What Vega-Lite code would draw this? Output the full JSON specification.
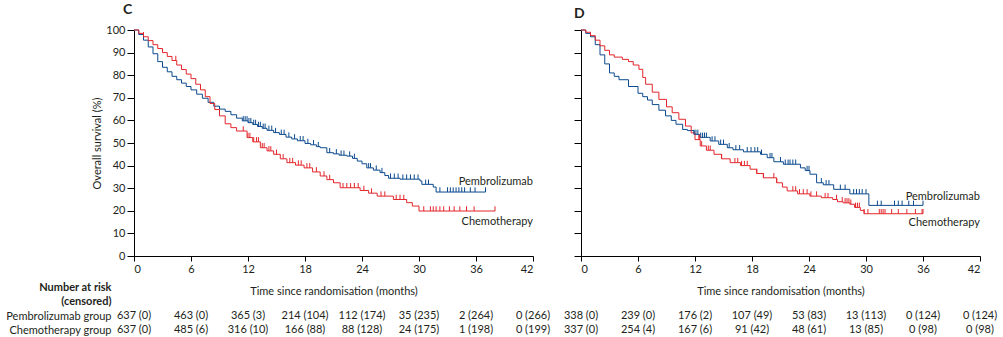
{
"$schema":"https://vega.github.io/schema/vega-lite/v6.json",
"padding":{"left":5,"top":3,"right":0,"bottom":0},
"bounds":"flush",
"columns":2,
"spacing":{"row":53,"column":48},
"config":{
 "font":"Lato",
 "view":{"stroke":null},
 "axis":{"domainColor":"#000000","tickColor":"#000000","labelColor":"#231f20","titleColor":"#231f20","labelFontSize":11,"titleFontSize":11,"titleFontWeight":"normal","grid":false,"labelFont":"Lato","titleFont":"Lato","labelOverlap":false},
 "text":{"font":"Lato"},
 "title":{"font":"Lato"}
},
"datasets":{
"km":[
{"p":"C","g":"Pembrolizumab","t":0,"s":100},{"p":"C","g":"Pembrolizumab","t":0.5,"s":98},{"p":"C","g":"Pembrolizumab","t":1,"s":95.5},{"p":"C","g":"Pembrolizumab","t":1.5,"s":92.5},{"p":"C","g":"Pembrolizumab","t":2,"s":89.5},{"p":"C","g":"Pembrolizumab","t":2.5,"s":86},{"p":"C","g":"Pembrolizumab","t":3,"s":83.5},{"p":"C","g":"Pembrolizumab","t":3.5,"s":81.5},{"p":"C","g":"Pembrolizumab","t":4,"s":79.5},{"p":"C","g":"Pembrolizumab","t":4.5,"s":78},{"p":"C","g":"Pembrolizumab","t":5,"s":76.5},{"p":"C","g":"Pembrolizumab","t":5.5,"s":75},{"p":"C","g":"Pembrolizumab","t":6,"s":73.5},{"p":"C","g":"Pembrolizumab","t":6.6,"s":71.6},{"p":"C","g":"Pembrolizumab","t":7.2,"s":69.8},{"p":"C","g":"Pembrolizumab","t":7.8,"s":68},{"p":"C","g":"Pembrolizumab","t":8.4,"s":66.3},{"p":"C","g":"Pembrolizumab","t":9,"s":65},{"p":"C","g":"Pembrolizumab","t":9.6,"s":64},{"p":"C","g":"Pembrolizumab","t":10.2,"s":62.5},{"p":"C","g":"Pembrolizumab","t":10.8,"s":61},{"p":"C","g":"Pembrolizumab","t":11.4,"s":59.8},{"p":"C","g":"Pembrolizumab","t":12,"s":59},{"p":"C","g":"Pembrolizumab","t":12.5,"s":58.2},{"p":"C","g":"Pembrolizumab","t":13,"s":57.3},{"p":"C","g":"Pembrolizumab","t":13.5,"s":56.5},{"p":"C","g":"Pembrolizumab","t":14,"s":55.6},{"p":"C","g":"Pembrolizumab","t":14.7,"s":54.6},{"p":"C","g":"Pembrolizumab","t":15.3,"s":53.8},{"p":"C","g":"Pembrolizumab","t":16,"s":52.6},{"p":"C","g":"Pembrolizumab","t":16.6,"s":51.8},{"p":"C","g":"Pembrolizumab","t":17.2,"s":51},{"p":"C","g":"Pembrolizumab","t":18,"s":49.8},{"p":"C","g":"Pembrolizumab","t":18.6,"s":49.2},{"p":"C","g":"Pembrolizumab","t":19.2,"s":48.4},{"p":"C","g":"Pembrolizumab","t":19.6,"s":47.9},{"p":"C","g":"Pembrolizumab","t":20.3,"s":45.7},{"p":"C","g":"Pembrolizumab","t":21,"s":45.2},{"p":"C","g":"Pembrolizumab","t":21.6,"s":44.6},{"p":"C","g":"Pembrolizumab","t":22.4,"s":44.2},{"p":"C","g":"Pembrolizumab","t":23,"s":43.2},{"p":"C","g":"Pembrolizumab","t":23.5,"s":42},{"p":"C","g":"Pembrolizumab","t":24,"s":40.8},{"p":"C","g":"Pembrolizumab","t":24.5,"s":39},{"p":"C","g":"Pembrolizumab","t":25.2,"s":38},{"p":"C","g":"Pembrolizumab","t":25.9,"s":36.9},{"p":"C","g":"Pembrolizumab","t":26.4,"s":35.6},{"p":"C","g":"Pembrolizumab","t":26.8,"s":34.4},{"p":"C","g":"Pembrolizumab","t":28,"s":34},{"p":"C","g":"Pembrolizumab","t":30.1,"s":33.2},{"p":"C","g":"Pembrolizumab","t":30.3,"s":31.7},{"p":"C","g":"Pembrolizumab","t":31.5,"s":30.5},{"p":"C","g":"Pembrolizumab","t":31.8,"s":28.3},{"p":"C","g":"Pembrolizumab","t":37,"s":28.3},
{"p":"C","g":"Chemotherapy","t":0,"s":100},{"p":"C","g":"Chemotherapy","t":0.5,"s":98.5},{"p":"C","g":"Chemotherapy","t":1,"s":97},{"p":"C","g":"Chemotherapy","t":1.5,"s":95.3},{"p":"C","g":"Chemotherapy","t":2,"s":93.5},{"p":"C","g":"Chemotherapy","t":2.5,"s":91.8},{"p":"C","g":"Chemotherapy","t":3,"s":90},{"p":"C","g":"Chemotherapy","t":3.5,"s":88.3},{"p":"C","g":"Chemotherapy","t":4,"s":86.5},{"p":"C","g":"Chemotherapy","t":4.5,"s":84.5},{"p":"C","g":"Chemotherapy","t":5,"s":82.5},{"p":"C","g":"Chemotherapy","t":5.5,"s":80.5},{"p":"C","g":"Chemotherapy","t":6,"s":78.5},{"p":"C","g":"Chemotherapy","t":6.5,"s":76},{"p":"C","g":"Chemotherapy","t":7,"s":73.5},{"p":"C","g":"Chemotherapy","t":7.5,"s":70.5},{"p":"C","g":"Chemotherapy","t":8,"s":67.5},{"p":"C","g":"Chemotherapy","t":8.5,"s":64.8},{"p":"C","g":"Chemotherapy","t":9,"s":62},{"p":"C","g":"Chemotherapy","t":9.6,"s":58.5},{"p":"C","g":"Chemotherapy","t":10.2,"s":56.8},{"p":"C","g":"Chemotherapy","t":10.8,"s":55.3},{"p":"C","g":"Chemotherapy","t":11.9,"s":52.4},{"p":"C","g":"Chemotherapy","t":12.5,"s":50.5},{"p":"C","g":"Chemotherapy","t":13.3,"s":47.9},{"p":"C","g":"Chemotherapy","t":14,"s":46.5},{"p":"C","g":"Chemotherapy","t":14.7,"s":45},{"p":"C","g":"Chemotherapy","t":15.4,"s":43},{"p":"C","g":"Chemotherapy","t":16.1,"s":41.3},{"p":"C","g":"Chemotherapy","t":17,"s":40.2},{"p":"C","g":"Chemotherapy","t":17.9,"s":39},{"p":"C","g":"Chemotherapy","t":18.8,"s":37.2},{"p":"C","g":"Chemotherapy","t":19.6,"s":35.4},{"p":"C","g":"Chemotherapy","t":20.3,"s":33.8},{"p":"C","g":"Chemotherapy","t":21,"s":32.4},{"p":"C","g":"Chemotherapy","t":21.7,"s":30.2},{"p":"C","g":"Chemotherapy","t":23.8,"s":29},{"p":"C","g":"Chemotherapy","t":24.7,"s":27.8},{"p":"C","g":"Chemotherapy","t":25.6,"s":26.5},{"p":"C","g":"Chemotherapy","t":27.3,"s":25},{"p":"C","g":"Chemotherapy","t":28.7,"s":23.6},{"p":"C","g":"Chemotherapy","t":29.3,"s":22.1},{"p":"C","g":"Chemotherapy","t":30,"s":19.9},{"p":"C","g":"Chemotherapy","t":38,"s":19.9},
{"p":"D","g":"Pembrolizumab","t":0,"s":100},{"p":"D","g":"Pembrolizumab","t":0.5,"s":98.5},{"p":"D","g":"Pembrolizumab","t":1,"s":97},{"p":"D","g":"Pembrolizumab","t":1.5,"s":93.5},{"p":"D","g":"Pembrolizumab","t":2,"s":89},{"p":"D","g":"Pembrolizumab","t":2.5,"s":85},{"p":"D","g":"Pembrolizumab","t":3,"s":81},{"p":"D","g":"Pembrolizumab","t":3.5,"s":79.5},{"p":"D","g":"Pembrolizumab","t":4,"s":78},{"p":"D","g":"Pembrolizumab","t":5,"s":75},{"p":"D","g":"Pembrolizumab","t":6,"s":72},{"p":"D","g":"Pembrolizumab","t":6.5,"s":70.5},{"p":"D","g":"Pembrolizumab","t":7,"s":69},{"p":"D","g":"Pembrolizumab","t":7.5,"s":67},{"p":"D","g":"Pembrolizumab","t":8.2,"s":64.5},{"p":"D","g":"Pembrolizumab","t":8.9,"s":62},{"p":"D","g":"Pembrolizumab","t":9.5,"s":60},{"p":"D","g":"Pembrolizumab","t":10,"s":58.3},{"p":"D","g":"Pembrolizumab","t":10.7,"s":56},{"p":"D","g":"Pembrolizumab","t":11.2,"s":55.5},{"p":"D","g":"Pembrolizumab","t":11.9,"s":53.8},{"p":"D","g":"Pembrolizumab","t":12.5,"s":52.5},{"p":"D","g":"Pembrolizumab","t":13.6,"s":50.9},{"p":"D","g":"Pembrolizumab","t":14.5,"s":49.4},{"p":"D","g":"Pembrolizumab","t":15.4,"s":47.9},{"p":"D","g":"Pembrolizumab","t":16,"s":47},{"p":"D","g":"Pembrolizumab","t":17.1,"s":46.1},{"p":"D","g":"Pembrolizumab","t":18.9,"s":45},{"p":"D","g":"Pembrolizumab","t":19.6,"s":43.5},{"p":"D","g":"Pembrolizumab","t":20.3,"s":41.7},{"p":"D","g":"Pembrolizumab","t":21.3,"s":40.6},{"p":"D","g":"Pembrolizumab","t":23.1,"s":39},{"p":"D","g":"Pembrolizumab","t":23.6,"s":37.8},{"p":"D","g":"Pembrolizumab","t":24.1,"s":36.2},{"p":"D","g":"Pembrolizumab","t":24.8,"s":32.4},{"p":"D","g":"Pembrolizumab","t":25.5,"s":31.5},{"p":"D","g":"Pembrolizumab","t":26.6,"s":29.5},{"p":"D","g":"Pembrolizumab","t":28.3,"s":27.5},{"p":"D","g":"Pembrolizumab","t":30.3,"s":22.4},{"p":"D","g":"Pembrolizumab","t":36,"s":22.4},
{"p":"D","g":"Chemotherapy","t":0,"s":100},{"p":"D","g":"Chemotherapy","t":0.5,"s":99},{"p":"D","g":"Chemotherapy","t":1,"s":97.5},{"p":"D","g":"Chemotherapy","t":1.5,"s":95.5},{"p":"D","g":"Chemotherapy","t":2,"s":93},{"p":"D","g":"Chemotherapy","t":2.5,"s":91},{"p":"D","g":"Chemotherapy","t":3,"s":89},{"p":"D","g":"Chemotherapy","t":3.5,"s":88},{"p":"D","g":"Chemotherapy","t":4.35,"s":87},{"p":"D","g":"Chemotherapy","t":5,"s":86},{"p":"D","g":"Chemotherapy","t":5.5,"s":84.5},{"p":"D","g":"Chemotherapy","t":6.1,"s":82.6},{"p":"D","g":"Chemotherapy","t":6.5,"s":79},{"p":"D","g":"Chemotherapy","t":6.8,"s":76},{"p":"D","g":"Chemotherapy","t":7.5,"s":72.5},{"p":"D","g":"Chemotherapy","t":8.2,"s":69.3},{"p":"D","g":"Chemotherapy","t":9,"s":66},{"p":"D","g":"Chemotherapy","t":9.6,"s":63.4},{"p":"D","g":"Chemotherapy","t":10.3,"s":60.5},{"p":"D","g":"Chemotherapy","t":11,"s":57.5},{"p":"D","g":"Chemotherapy","t":11.6,"s":54.5},{"p":"D","g":"Chemotherapy","t":12,"s":51.5},{"p":"D","g":"Chemotherapy","t":12.55,"s":48.7},{"p":"D","g":"Chemotherapy","t":13.2,"s":46.8},{"p":"D","g":"Chemotherapy","t":14,"s":45},{"p":"D","g":"Chemotherapy","t":14.8,"s":43},{"p":"D","g":"Chemotherapy","t":15.7,"s":41.3},{"p":"D","g":"Chemotherapy","t":16.8,"s":40},{"p":"D","g":"Chemotherapy","t":17.8,"s":38.4},{"p":"D","g":"Chemotherapy","t":18.5,"s":36.5},{"p":"D","g":"Chemotherapy","t":19.2,"s":34.6},{"p":"D","g":"Chemotherapy","t":20.6,"s":32.4},{"p":"D","g":"Chemotherapy","t":21.2,"s":30.5},{"p":"D","g":"Chemotherapy","t":21.7,"s":28.8},{"p":"D","g":"Chemotherapy","t":22.8,"s":27.5},{"p":"D","g":"Chemotherapy","t":24.1,"s":26.5},{"p":"D","g":"Chemotherapy","t":25.3,"s":25.8},{"p":"D","g":"Chemotherapy","t":26.5,"s":25},{"p":"D","g":"Chemotherapy","t":27,"s":24},{"p":"D","g":"Chemotherapy","t":27.6,"s":23.5},{"p":"D","g":"Chemotherapy","t":28.3,"s":22.9},{"p":"D","g":"Chemotherapy","t":28.8,"s":21.5},{"p":"D","g":"Chemotherapy","t":29.4,"s":20.2},{"p":"D","g":"Chemotherapy","t":29.8,"s":18.7},{"p":"D","g":"Chemotherapy","t":36,"s":18.7}
],
"cens":[
{"p":"C","g":"Pembrolizumab","t":11.5,"s":59.8},{"p":"C","g":"Pembrolizumab","t":11.7,"s":59.8},{"p":"C","g":"Pembrolizumab","t":11.9,"s":59.8},{"p":"C","g":"Pembrolizumab","t":12.1,"s":59},{"p":"C","g":"Pembrolizumab","t":12.3,"s":59},{"p":"C","g":"Pembrolizumab","t":12.6,"s":58.2},{"p":"C","g":"Pembrolizumab","t":12.8,"s":58.2},{"p":"C","g":"Pembrolizumab","t":13.1,"s":57.3},{"p":"C","g":"Pembrolizumab","t":13.3,"s":57.3},{"p":"C","g":"Pembrolizumab","t":13.6,"s":56.5},{"p":"C","g":"Pembrolizumab","t":13.8,"s":56.5},{"p":"C","g":"Pembrolizumab","t":14.2,"s":55.6},{"p":"C","g":"Pembrolizumab","t":14.5,"s":55.6},{"p":"C","g":"Pembrolizumab","t":14.9,"s":54.6},{"p":"C","g":"Pembrolizumab","t":15.5,"s":53.8},{"p":"C","g":"Pembrolizumab","t":15.8,"s":53.8},{"p":"C","g":"Pembrolizumab","t":16.3,"s":52.6},{"p":"C","g":"Pembrolizumab","t":16.9,"s":51.8},{"p":"C","g":"Pembrolizumab","t":17.5,"s":51},{"p":"C","g":"Pembrolizumab","t":17.8,"s":51},{"p":"C","g":"Pembrolizumab","t":18.3,"s":49.8},{"p":"C","g":"Pembrolizumab","t":18.9,"s":49.2},{"p":"C","g":"Pembrolizumab","t":19.4,"s":48.4},{"p":"C","g":"Pembrolizumab","t":20.6,"s":45.7},{"p":"C","g":"Pembrolizumab","t":21.3,"s":45.2},{"p":"C","g":"Pembrolizumab","t":21.8,"s":44.6},{"p":"C","g":"Pembrolizumab","t":22.1,"s":44.6},{"p":"C","g":"Pembrolizumab","t":22.7,"s":44.2},{"p":"C","g":"Pembrolizumab","t":23.2,"s":43.2},{"p":"C","g":"Pembrolizumab","t":24.7,"s":39},{"p":"C","g":"Pembrolizumab","t":24.9,"s":39},{"p":"C","g":"Pembrolizumab","t":25.5,"s":38},{"p":"C","g":"Pembrolizumab","t":26.1,"s":36.9},{"p":"C","g":"Pembrolizumab","t":27,"s":34.4},{"p":"C","g":"Pembrolizumab","t":27.4,"s":34.4},{"p":"C","g":"Pembrolizumab","t":27.8,"s":34.4},{"p":"C","g":"Pembrolizumab","t":28.3,"s":34},{"p":"C","g":"Pembrolizumab","t":28.7,"s":34},{"p":"C","g":"Pembrolizumab","t":29.1,"s":34},{"p":"C","g":"Pembrolizumab","t":29.5,"s":34},{"p":"C","g":"Pembrolizumab","t":29.9,"s":34},{"p":"C","g":"Pembrolizumab","t":30.7,"s":31.7},{"p":"C","g":"Pembrolizumab","t":31,"s":31.7},{"p":"C","g":"Pembrolizumab","t":32.2,"s":28.3},{"p":"C","g":"Pembrolizumab","t":33,"s":28.3},{"p":"C","g":"Pembrolizumab","t":33.3,"s":28.3},{"p":"C","g":"Pembrolizumab","t":33.6,"s":28.3},{"p":"C","g":"Pembrolizumab","t":33.9,"s":28.3},{"p":"C","g":"Pembrolizumab","t":34.2,"s":28.3},{"p":"C","g":"Pembrolizumab","t":34.5,"s":28.3},{"p":"C","g":"Pembrolizumab","t":34.8,"s":28.3},{"p":"C","g":"Pembrolizumab","t":35.4,"s":28.3},{"p":"C","g":"Pembrolizumab","t":35.9,"s":28.3},{"p":"C","g":"Pembrolizumab","t":37,"s":28.3},
{"p":"C","g":"Chemotherapy","t":1,"s":97},{"p":"C","g":"Chemotherapy","t":4.4,"s":86.5},{"p":"C","g":"Chemotherapy","t":11.5,"s":55.3},{"p":"C","g":"Chemotherapy","t":12,"s":52.4},{"p":"C","g":"Chemotherapy","t":12.2,"s":52.4},{"p":"C","g":"Chemotherapy","t":12.6,"s":50.5},{"p":"C","g":"Chemotherapy","t":12.9,"s":50.5},{"p":"C","g":"Chemotherapy","t":13.1,"s":50.5},{"p":"C","g":"Chemotherapy","t":13.5,"s":47.9},{"p":"C","g":"Chemotherapy","t":13.7,"s":47.9},{"p":"C","g":"Chemotherapy","t":14.2,"s":46.5},{"p":"C","g":"Chemotherapy","t":14.4,"s":46.5},{"p":"C","g":"Chemotherapy","t":15,"s":45},{"p":"C","g":"Chemotherapy","t":15.7,"s":43},{"p":"C","g":"Chemotherapy","t":16.4,"s":41.3},{"p":"C","g":"Chemotherapy","t":16.7,"s":41.3},{"p":"C","g":"Chemotherapy","t":17.3,"s":40.2},{"p":"C","g":"Chemotherapy","t":17.6,"s":40.2},{"p":"C","g":"Chemotherapy","t":18.2,"s":39},{"p":"C","g":"Chemotherapy","t":18.5,"s":39},{"p":"C","g":"Chemotherapy","t":19.2,"s":37.2},{"p":"C","g":"Chemotherapy","t":20,"s":35.4},{"p":"C","g":"Chemotherapy","t":20.6,"s":33.8},{"p":"C","g":"Chemotherapy","t":22,"s":30.2},{"p":"C","g":"Chemotherapy","t":22.4,"s":30.2},{"p":"C","g":"Chemotherapy","t":22.8,"s":30.2},{"p":"C","g":"Chemotherapy","t":23.2,"s":30.2},{"p":"C","g":"Chemotherapy","t":23.6,"s":30.2},{"p":"C","g":"Chemotherapy","t":24.2,"s":29},{"p":"C","g":"Chemotherapy","t":25,"s":27.8},{"p":"C","g":"Chemotherapy","t":26,"s":26.5},{"p":"C","g":"Chemotherapy","t":26.4,"s":26.5},{"p":"C","g":"Chemotherapy","t":27.6,"s":25},{"p":"C","g":"Chemotherapy","t":28,"s":25},{"p":"C","g":"Chemotherapy","t":28.4,"s":25},{"p":"C","g":"Chemotherapy","t":30.5,"s":19.9},{"p":"C","g":"Chemotherapy","t":31.2,"s":19.9},{"p":"C","g":"Chemotherapy","t":31.5,"s":19.9},{"p":"C","g":"Chemotherapy","t":31.8,"s":19.9},{"p":"C","g":"Chemotherapy","t":32.2,"s":19.9},{"p":"C","g":"Chemotherapy","t":32.6,"s":19.9},{"p":"C","g":"Chemotherapy","t":33.2,"s":19.9},{"p":"C","g":"Chemotherapy","t":33.7,"s":19.9},{"p":"C","g":"Chemotherapy","t":34.3,"s":19.9},{"p":"C","g":"Chemotherapy","t":35,"s":19.9},{"p":"C","g":"Chemotherapy","t":35.8,"s":19.9},{"p":"C","g":"Chemotherapy","t":38,"s":19.9},
{"p":"D","g":"Pembrolizumab","t":11.9,"s":53.8},{"p":"D","g":"Pembrolizumab","t":12.1,"s":53.8},{"p":"D","g":"Pembrolizumab","t":12.3,"s":53.8},{"p":"D","g":"Pembrolizumab","t":12.6,"s":52.5},{"p":"D","g":"Pembrolizumab","t":12.8,"s":52.5},{"p":"D","g":"Pembrolizumab","t":13,"s":52.5},{"p":"D","g":"Pembrolizumab","t":13.2,"s":52.5},{"p":"D","g":"Pembrolizumab","t":13.8,"s":50.9},{"p":"D","g":"Pembrolizumab","t":14.1,"s":50.9},{"p":"D","g":"Pembrolizumab","t":14.7,"s":49.4},{"p":"D","g":"Pembrolizumab","t":15,"s":49.4},{"p":"D","g":"Pembrolizumab","t":15.6,"s":47.9},{"p":"D","g":"Pembrolizumab","t":16.3,"s":47},{"p":"D","g":"Pembrolizumab","t":16.7,"s":47},{"p":"D","g":"Pembrolizumab","t":17.5,"s":46.1},{"p":"D","g":"Pembrolizumab","t":17.9,"s":46.1},{"p":"D","g":"Pembrolizumab","t":18.3,"s":46.1},{"p":"D","g":"Pembrolizumab","t":18.6,"s":46.1},{"p":"D","g":"Pembrolizumab","t":19,"s":45},{"p":"D","g":"Pembrolizumab","t":19.9,"s":43.5},{"p":"D","g":"Pembrolizumab","t":20.1,"s":43.5},{"p":"D","g":"Pembrolizumab","t":21,"s":41.7},{"p":"D","g":"Pembrolizumab","t":21.5,"s":40.6},{"p":"D","g":"Pembrolizumab","t":21.8,"s":40.6},{"p":"D","g":"Pembrolizumab","t":22,"s":40.6},{"p":"D","g":"Pembrolizumab","t":22.3,"s":40.6},{"p":"D","g":"Pembrolizumab","t":22.6,"s":40.6},{"p":"D","g":"Pembrolizumab","t":23.8,"s":37.8},{"p":"D","g":"Pembrolizumab","t":24,"s":37.8},{"p":"D","g":"Pembrolizumab","t":25.3,"s":32.4},{"p":"D","g":"Pembrolizumab","t":25.8,"s":31.5},{"p":"D","g":"Pembrolizumab","t":26.1,"s":31.5},{"p":"D","g":"Pembrolizumab","t":27.3,"s":29.5},{"p":"D","g":"Pembrolizumab","t":27.8,"s":29.5},{"p":"D","g":"Pembrolizumab","t":28.7,"s":27.5},{"p":"D","g":"Pembrolizumab","t":29,"s":27.5},{"p":"D","g":"Pembrolizumab","t":29.3,"s":27.5},{"p":"D","g":"Pembrolizumab","t":29.6,"s":27.5},{"p":"D","g":"Pembrolizumab","t":30,"s":27.5},{"p":"D","g":"Pembrolizumab","t":31.2,"s":22.4},{"p":"D","g":"Pembrolizumab","t":31.6,"s":22.4},{"p":"D","g":"Pembrolizumab","t":33,"s":22.4},{"p":"D","g":"Pembrolizumab","t":33.4,"s":22.4},{"p":"D","g":"Pembrolizumab","t":33.8,"s":22.4},{"p":"D","g":"Pembrolizumab","t":34.5,"s":22.4},{"p":"D","g":"Pembrolizumab","t":35,"s":22.4},{"p":"D","g":"Pembrolizumab","t":36,"s":22.4},
{"p":"D","g":"Chemotherapy","t":12.4,"s":51.5},{"p":"D","g":"Chemotherapy","t":12.5,"s":51.5},{"p":"D","g":"Chemotherapy","t":12.7,"s":48.7},{"p":"D","g":"Chemotherapy","t":13.4,"s":46.8},{"p":"D","g":"Chemotherapy","t":13.6,"s":46.8},{"p":"D","g":"Chemotherapy","t":14.8,"s":43},{"p":"D","g":"Chemotherapy","t":16.2,"s":41.3},{"p":"D","g":"Chemotherapy","t":16.5,"s":41.3},{"p":"D","g":"Chemotherapy","t":16.9,"s":40},{"p":"D","g":"Chemotherapy","t":17.2,"s":40},{"p":"D","g":"Chemotherapy","t":17.5,"s":40},{"p":"D","g":"Chemotherapy","t":18.5,"s":36.5},{"p":"D","g":"Chemotherapy","t":19.2,"s":34.6},{"p":"D","g":"Chemotherapy","t":20.3,"s":34.6},{"p":"D","g":"Chemotherapy","t":20.6,"s":32.4},{"p":"D","g":"Chemotherapy","t":22.3,"s":28.8},{"p":"D","g":"Chemotherapy","t":22.6,"s":28.8},{"p":"D","g":"Chemotherapy","t":23,"s":27.5},{"p":"D","g":"Chemotherapy","t":23.4,"s":27.5},{"p":"D","g":"Chemotherapy","t":23.8,"s":27.5},{"p":"D","g":"Chemotherapy","t":24.2,"s":26.5},{"p":"D","g":"Chemotherapy","t":24.8,"s":26.5},{"p":"D","g":"Chemotherapy","t":25.7,"s":25.8},{"p":"D","g":"Chemotherapy","t":26,"s":25.8},{"p":"D","g":"Chemotherapy","t":26.9,"s":25},{"p":"D","g":"Chemotherapy","t":27.5,"s":24},{"p":"D","g":"Chemotherapy","t":27.8,"s":23.5},{"p":"D","g":"Chemotherapy","t":28,"s":23.5},{"p":"D","g":"Chemotherapy","t":28.2,"s":23.5},{"p":"D","g":"Chemotherapy","t":28.4,"s":22.9},{"p":"D","g":"Chemotherapy","t":28.9,"s":21.5},{"p":"D","g":"Chemotherapy","t":29.1,"s":21.5},{"p":"D","g":"Chemotherapy","t":29.3,"s":21.5},{"p":"D","g":"Chemotherapy","t":29.8,"s":18.7},{"p":"D","g":"Chemotherapy","t":30.2,"s":18.7},{"p":"D","g":"Chemotherapy","t":31.4,"s":18.7},{"p":"D","g":"Chemotherapy","t":31.6,"s":18.7},{"p":"D","g":"Chemotherapy","t":31.8,"s":18.7},{"p":"D","g":"Chemotherapy","t":32,"s":18.7},{"p":"D","g":"Chemotherapy","t":32.7,"s":18.7},{"p":"D","g":"Chemotherapy","t":33.4,"s":18.7},{"p":"D","g":"Chemotherapy","t":34.3,"s":18.7},{"p":"D","g":"Chemotherapy","t":35.2,"s":18.7},{"p":"D","g":"Chemotherapy","t":35.9,"s":18.7},{"p":"D","g":"Chemotherapy","t":36,"s":18.7}
],
"risk":[
{"p":"C","g":"Pembrolizumab group","t":0,"n":"637 (0)"},{"p":"C","g":"Pembrolizumab group","t":6,"n":"463 (0)"},{"p":"C","g":"Pembrolizumab group","t":12,"n":"365 (3)"},{"p":"C","g":"Pembrolizumab group","t":18,"n":"214 (104)"},{"p":"C","g":"Pembrolizumab group","t":24,"n":"112 (174)"},{"p":"C","g":"Pembrolizumab group","t":30,"n":"35 (235)"},{"p":"C","g":"Pembrolizumab group","t":36,"n":"2 (264)"},{"p":"C","g":"Pembrolizumab group","t":42,"n":"0 (266)"},
{"p":"C","g":"Chemotherapy group","t":0,"n":"637 (0)"},{"p":"C","g":"Chemotherapy group","t":6,"n":"485 (6)"},{"p":"C","g":"Chemotherapy group","t":12,"n":"316 (10)"},{"p":"C","g":"Chemotherapy group","t":18,"n":"166 (88)"},{"p":"C","g":"Chemotherapy group","t":24,"n":"88 (128)"},{"p":"C","g":"Chemotherapy group","t":30,"n":"24 (175)"},{"p":"C","g":"Chemotherapy group","t":36,"n":"1 (198)"},{"p":"C","g":"Chemotherapy group","t":42,"n":"0 (199)"},
{"p":"D","g":"Pembrolizumab group","t":0,"n":"338 (0)"},{"p":"D","g":"Pembrolizumab group","t":6,"n":"239 (0)"},{"p":"D","g":"Pembrolizumab group","t":12,"n":"176 (2)"},{"p":"D","g":"Pembrolizumab group","t":18,"n":"107 (49)"},{"p":"D","g":"Pembrolizumab group","t":24,"n":"53 (83)"},{"p":"D","g":"Pembrolizumab group","t":30,"n":"13 (113)"},{"p":"D","g":"Pembrolizumab group","t":36,"n":"0 (124)"},{"p":"D","g":"Pembrolizumab group","t":42,"n":"0 (124)"},
{"p":"D","g":"Chemotherapy group","t":0,"n":"337 (0)"},{"p":"D","g":"Chemotherapy group","t":6,"n":"254 (4)"},{"p":"D","g":"Chemotherapy group","t":12,"n":"167 (6)"},{"p":"D","g":"Chemotherapy group","t":18,"n":"91 (42)"},{"p":"D","g":"Chemotherapy group","t":24,"n":"48 (61)"},{"p":"D","g":"Chemotherapy group","t":30,"n":"13 (85)"},{"p":"D","g":"Chemotherapy group","t":36,"n":"0 (98)"},{"p":"D","g":"Chemotherapy group","t":42,"n":"0 (98)"}
],
"lab":[
{"p":"C","g":"Pembrolizumab","t":42,"s":32.7},{"p":"C","g":"Chemotherapy","t":42,"s":15.2},
{"p":"D","g":"Pembrolizumab","t":42,"s":26.1},{"p":"D","g":"Chemotherapy","t":42,"s":14.7}
],
"hr":[
{"p":"C","text":"HR 0·81 (95% CI 0·71–0·93), p=0·0018"},
{"p":"D","text":"HR 0·92 (95% CI 0·77–1·11)"}
]
},
"concat":[
 {"width":399,"height":226,
  "title":{"text":"C","anchor":"start","frame":"group","dx":-11,"offset":-7,"fontSize":14,"fontWeight":"bold","color":"#231f20","baseline":"bottom"},
  "encoding":{
   "x":{"field":"t","type":"quantitative","scale":{"domain":[0,42],"nice":false},"axis":{"values":[0,6,12,18,24,30,36,42],"title":"Time since randomisation (months)","tickSize":5,"labelPadding":2,"titlePadding":11,"labelOverlap":false}},
   "y":{"field":"s","type":"quantitative","scale":{"domain":[0,100],"nice":false},"axis":{"values":[0,10,20,30,40,50,60,70,80,90,100],"tickCount":11,"title":"Overall survival (%)","tickSize":7,"labelPadding":2,"titlePadding":3,"labelOverlap":false}}
  },
  "layer":[
   {"data":{"name":"km"},"transform":[{"filter":"datum.p==='C'"}],
    "mark":{"type":"line","interpolate":"step-after","strokeWidth":1},
    "encoding":{"color":{"field":"g","type":"nominal","scale":{"domain":["Pembrolizumab","Chemotherapy"],"range":["#0b4a8e","#e3262b"]},"legend":null}}},
   {"data":{"name":"cens"},"transform":[{"filter":"datum.p==='C'"}],
    "mark":{"type":"point","shape":"M0,0L0,-1","size":90,"filled":false,"strokeWidth":1,"opacity":1},
    "encoding":{"color":{"field":"g","type":"nominal","legend":null}}},
   {"data":{"name":"lab"},"transform":[{"filter":"datum.p==='C'"}],
    "mark":{"type":"text","align":"right","baseline":"middle","fontSize":11,"color":"#231f20"},
    "encoding":{"text":{"field":"g"}}},
   {"data":{"name":"hr"},"transform":[{"filter":"datum.p==='C'"}],
    "mark":{"type":"text","align":"right","baseline":"middle","fontSize":11,"color":"#231f20","dx":3},
    "encoding":{"x":{"datum":42},"y":{"datum":100},"text":{"field":"text"}}}
  ]},
 {"width":399,"height":226,
  "title":{"text":"D","anchor":"start","frame":"group","dx":-7,"offset":-7,"fontSize":14,"fontWeight":"bold","color":"#231f20","baseline":"bottom"},
  "encoding":{
   "x":{"field":"t","type":"quantitative","scale":{"domain":[0,42],"nice":false},"axis":{"values":[0,6,12,18,24,30,36,42],"title":"Time since randomisation (months)","tickSize":5,"labelPadding":2,"titlePadding":11,"labelOverlap":false}},
   "y":{"field":"s","type":"quantitative","scale":{"domain":[0,100],"nice":false},"axis":{"values":[0,10,20,30,40,50,60,70,80,90,100],"tickCount":11,"title":null,"labels":false,"tickSize":7}}
  },
  "layer":[
   {"data":{"name":"km"},"transform":[{"filter":"datum.p==='D'"}],
    "mark":{"type":"line","interpolate":"step-after","strokeWidth":1},
    "encoding":{"color":{"field":"g","type":"nominal","scale":{"domain":["Pembrolizumab","Chemotherapy"],"range":["#0b4a8e","#e3262b"]},"legend":null}}},
   {"data":{"name":"cens"},"transform":[{"filter":"datum.p==='D'"}],
    "mark":{"type":"point","shape":"M0,0L0,-1","size":90,"filled":false,"strokeWidth":1,"opacity":1},
    "encoding":{"color":{"field":"g","type":"nominal","legend":null}}},
   {"data":{"name":"lab"},"transform":[{"filter":"datum.p==='D'"}],
    "mark":{"type":"text","align":"right","baseline":"middle","fontSize":11,"color":"#231f20"},
    "encoding":{"text":{"field":"g"}}},
   {"data":{"name":"hr"},"transform":[{"filter":"datum.p==='D'"}],
    "mark":{"type":"text","align":"right","baseline":"middle","fontSize":11,"color":"#231f20","dx":4},
    "encoding":{"x":{"datum":42},"y":{"datum":100},"text":{"field":"text"}}}
  ]},
 {"width":399,"height":28,
  "data":{"name":"risk"},"transform":[{"filter":"datum.p==='C'"}],
  "mark":{"type":"text","fontSize":11,"color":"#231f20","baseline":"middle"},
  "encoding":{
   "x":{"field":"t","type":"quantitative","scale":{"domain":[0,42],"nice":false},"axis":null},
   "y":{"field":"g","type":"nominal","scale":{"domain":["Pembrolizumab group","Chemotherapy group"]},"axis":{"title":["Number at risk","(censored)"],"titleAngle":0,"titleAlign":"right","titleBaseline":"top","titleX":-23,"titleY":-28,"titleFontWeight":"bold","titleLineHeight":14,"domain":false,"ticks":false,"tickSize":0,"labelPadding":23}},
   "text":{"field":"n"}}},
 {"width":399,"height":28,
  "data":{"name":"risk"},"transform":[{"filter":"datum.p==='D'"}],
  "mark":{"type":"text","fontSize":11,"color":"#231f20","baseline":"middle"},
  "encoding":{
   "x":{"field":"t","type":"quantitative","scale":{"domain":[0,42],"nice":false},"axis":null},
   "y":{"field":"g","type":"nominal","scale":{"domain":["Pembrolizumab group","Chemotherapy group"]},"axis":null},
   "text":{"field":"n"}}}
]
}
